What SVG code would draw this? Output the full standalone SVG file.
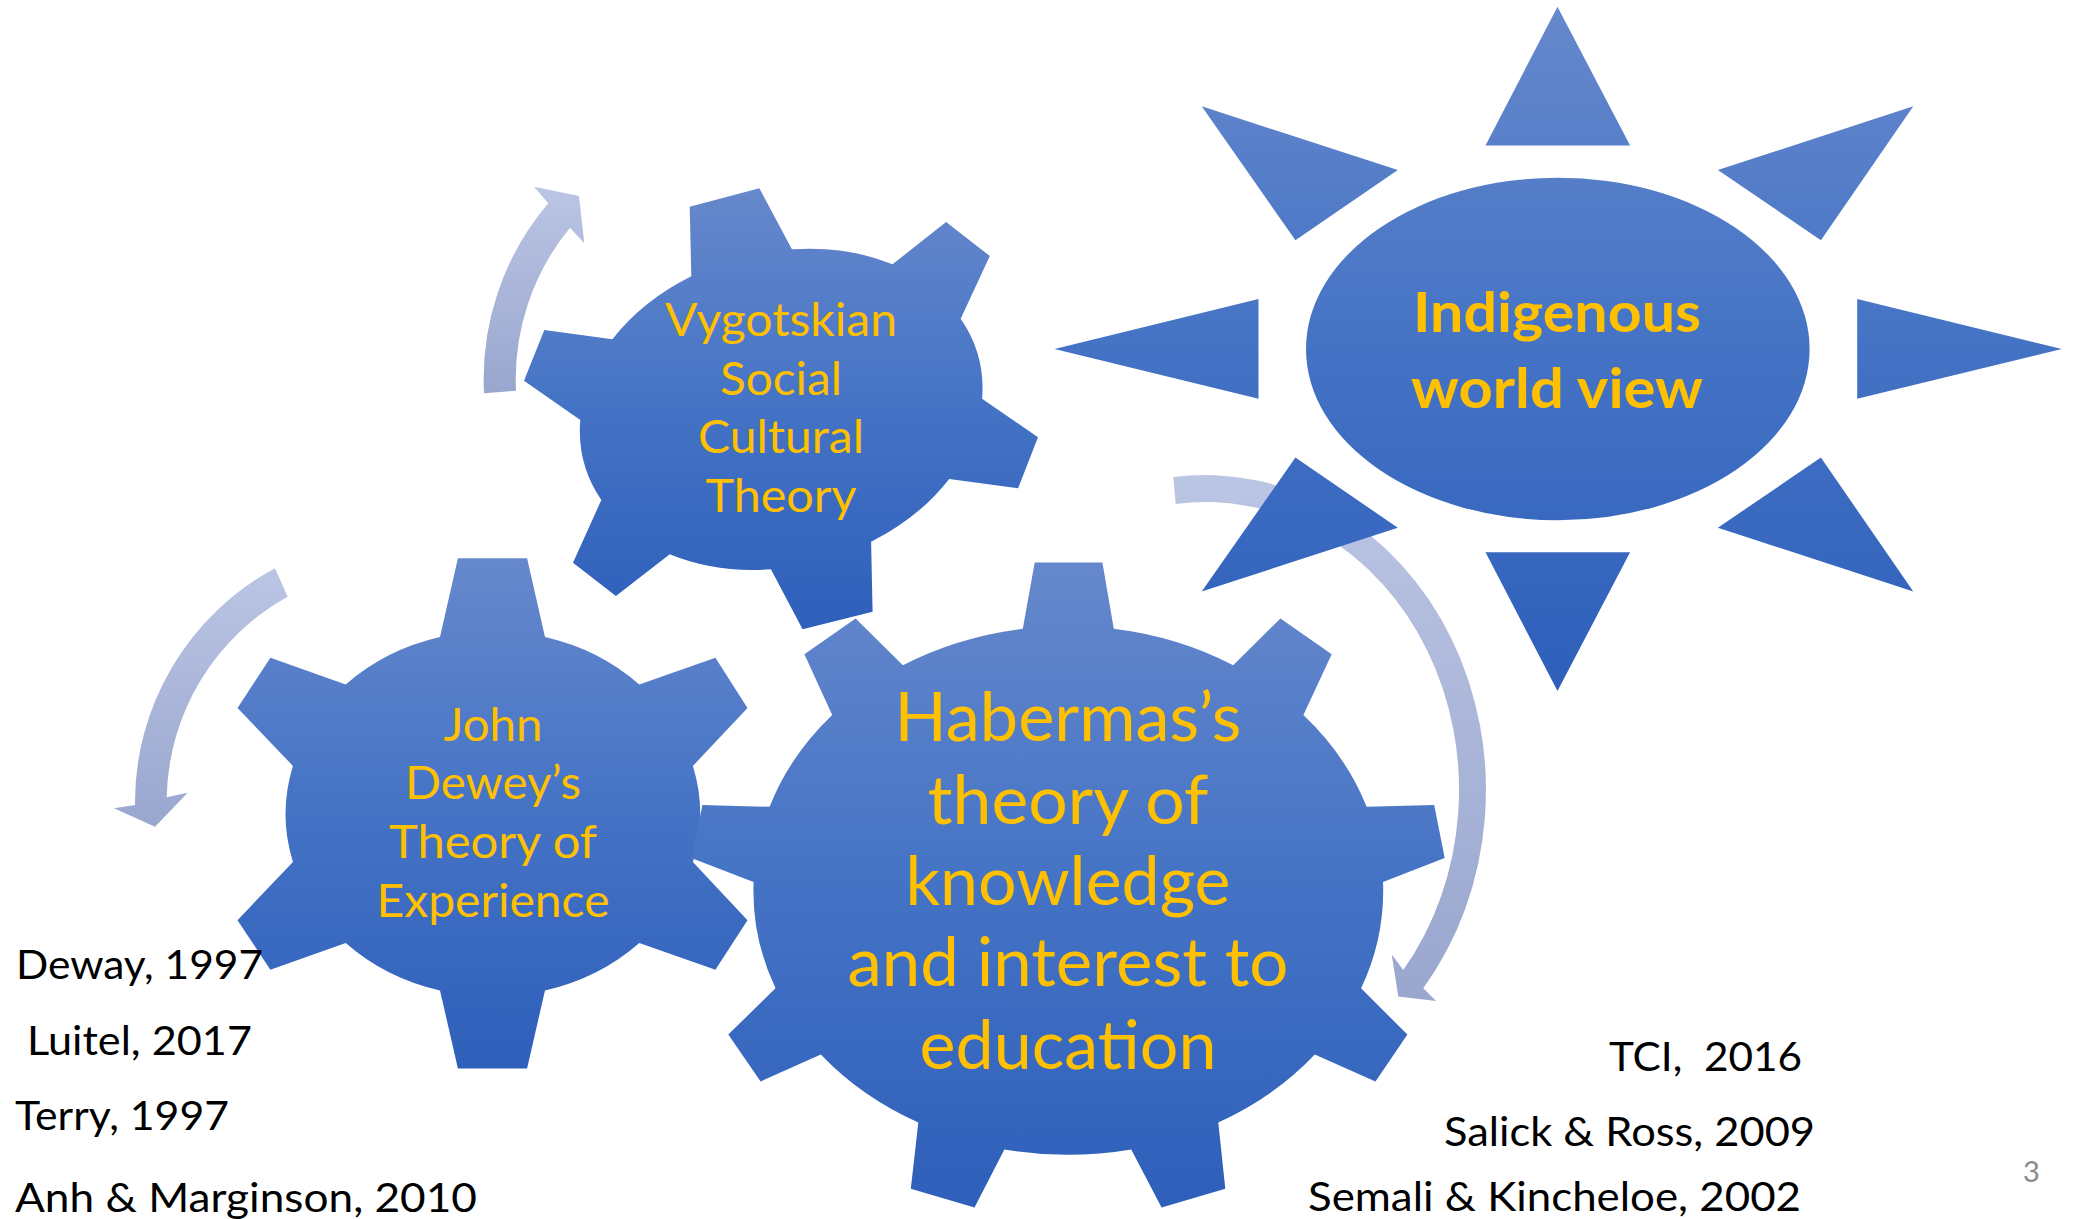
<svg xmlns="http://www.w3.org/2000/svg" width="2075" height="1219" viewBox="0 0 2075 1219">
  <style>
    .gear { fill: url(#blueGrad); }
    .arrow { fill: url(#arrowGrad); }
    .lbl { font-family: Lato, "Open Sans", "Liberation Sans", sans-serif; fill: #FFC000; text-anchor: middle; }
    .small { font-size: 47px; }
    .big { font-size: 68px; }
    .sunlbl { font-size: 56px; font-weight: bold; }
    .cite { font-family: Lato, "Open Sans", "Liberation Sans", sans-serif; font-size: 41px; fill: #000000; }
    .pg { font-family: Lato, "Open Sans", "Liberation Sans", sans-serif; font-size: 29px; fill: #898989; }
  </style>
  <defs>
    <linearGradient id="blueGrad" x1="0" y1="0" x2="0" y2="1">
      <stop offset="0" stop-color="#6688CC"/>
      <stop offset="0.5" stop-color="#4473C5"/>
      <stop offset="1" stop-color="#2E5FBA"/>
    </linearGradient>
    <linearGradient id="arrowGrad" x1="0" y1="0" x2="0" y2="1">
      <stop offset="0" stop-color="#BBC5E4"/>
      <stop offset="1" stop-color="#99A6CE"/>
    </linearGradient>
  </defs>
  <rect x="0" y="0" width="2075" height="1219" fill="#FFFFFF"/>

  <g id="connectors">
    <path id="arrow-upper-left" class="arrow" d="M484,393.3 A271 271 0 0 1 548.3,203.3 L534,186.7 L579,196 L584.3,243.3 L570,227.7 A238.6 238.6 0 0 0 516,390.7 Z"/>
    <path id="arrow-lower-left" class="arrow" d="M275,568.3 A265.7 265.7 0 0 0 135,805 L114,808.3 L155,826.7 L187.7,792.7 L166.7,797.3 A234.5 234.5 0 0 1 287.7,596.7 Z"/>
    <path id="arrow-right" class="arrow" d="M1173.3,477 A281 315 0 0 1 1423.3,988.3 L1436,1001 L1398.3,996.4 L1391.7,954.6 L1403.3,970 A254 288 0 0 0 1175.7,503.9 Z"/>
  </g>

  <g id="gear-vygotskian">
    <path class="gear" d="M691.3,276.3 L689.7,206.7 L759.4,188.3 L791.9,249.3 A205 157 -15.8 0 1 892.5,264.3 L946.1,222 L989.8,256 L960.7,318.7 A205 157 -15.8 0 1 982.1,398.7 L1038,437.3 L1018.1,488.3 L949.2,479 A205 157 -15.8 0 1 871.1,541.7 L872.6,611.7 L802.6,629.3 L770.9,569.3 A205 157 -15.8 0 1 669.8,554.3 L615.9,596 L573,562.7 L601.3,500 A205 157 -15.8 0 1 580.3,420 L524,380.7 L544.3,330 L612.4,339.3 A205 157 -15.8 0 1 691.3,276.3 Z"/>
    <text class="lbl small" x="781" y="336" textLength="232" lengthAdjust="spacingAndGlyphs">Vygotskian</text>
    <text class="lbl small" x="781" y="395" textLength="122" lengthAdjust="spacingAndGlyphs">Social</text>
    <text class="lbl small" x="781" y="453" textLength="166" lengthAdjust="spacingAndGlyphs">Cultural</text>
    <text class="lbl small" x="781" y="512" textLength="151" lengthAdjust="spacingAndGlyphs">Theory</text>
  </g>

  <g id="gear-dewey">
    <path class="gear" d="M440,637.1 L457.9,558.3 L527.1,558.3 L545,637.1 A207 183 0 0 1 639.3,684.6 L715.4,657.8 L747.5,708 L692.9,765.9 A207 183 0 0 1 692.9,862 L747.5,920.2 L715.4,969.8 L639.3,942.9 A207 183 0 0 1 545,990.4 L527.1,1068.6 L457.9,1068.6 L440,990.4 A207 183 0 0 1 345.7,942.9 L270.4,969.8 L237.5,920.2 L292.9,862 A207 183 0 0 1 292.9,765.9 L237.5,708 L270.4,657.8 L345.7,684.6 A207 183 0 0 1 440,637.1 Z"/>
    <text class="lbl small" x="493" y="741" textLength="99" lengthAdjust="spacingAndGlyphs">John</text>
    <text class="lbl small" x="493" y="799" textLength="176" lengthAdjust="spacingAndGlyphs">Dewey’s</text>
    <text class="lbl small" x="493" y="858" textLength="208" lengthAdjust="spacingAndGlyphs">Theory of</text>
    <text class="lbl small" x="493" y="917" textLength="233" lengthAdjust="spacingAndGlyphs">Experience</text>
  </g>

  <g id="gear-habermas">
    <path class="gear" d="M1022.8,628.8 L1034.7,562.5 L1102.4,562.5 L1113.8,628.8 A315 264 0 0 1 1233.2,665.2 L1280.5,618.4 L1331.7,654.3 L1303.4,715 A315 264 0 0 1 1366.6,806.8 L1434.2,805.1 L1444.7,857.9 L1383,882.1 A315 264 0 0 1 1361.1,988.2 L1407.4,1034.6 L1375.5,1081.4 L1314.8,1054.5 A315 264 0 0 1 1218.3,1122.5 L1225.3,1188.8 L1161.6,1207.4 L1131.2,1149.4 A315 264 0 0 1 1004.4,1149.4 L974.5,1207.4 L910.8,1188.8 L918.3,1122.5 A315 264 0 0 1 820.8,1054.5 L760.6,1081.4 L728.3,1034.6 L775.5,988.2 A315 264 0 0 1 753.6,882.1 L691.9,858.3 L702.4,805.1 L769.6,806.8 A315 264 0 0 1 832.2,715 L804.4,654.3 L855.6,618.4 L902.9,665.2 A315 264 0 0 1 1022.8,628.8 Z"/>
    <text class="lbl big" x="1068" y="741" textLength="347" lengthAdjust="spacingAndGlyphs">Habermas’s</text>
    <text class="lbl big" x="1068" y="824" textLength="281" lengthAdjust="spacingAndGlyphs">theory of</text>
    <text class="lbl big" x="1068" y="905" textLength="325" lengthAdjust="spacingAndGlyphs">knowledge</text>
    <text class="lbl big" x="1068" y="986" textLength="441" lengthAdjust="spacingAndGlyphs">and interest to</text>
    <text class="lbl big" x="1068" y="1069" textLength="297" lengthAdjust="spacingAndGlyphs">education</text>
  </g>

  <g id="sun-indigenous">
    <path class="gear" d="M1557.5,6.7 L1630.1,145.5 L1485.5,145.5 Z M1913.3,106.3 L1820.9,240.2 L1717.9,170.1 Z M2061.8,349.1 L1857.2,398.7 L1857.2,299.1 Z M1913.3,591.5 L1717.9,527.7 L1820.9,457.6 Z M1557.5,691.1 L1485.5,552.2 L1630.1,552.2 Z M1201.7,591.5 L1295.4,457.6 L1397.8,527.7 Z M1054.5,349.1 L1258.5,299.1 L1258.5,398.7 Z M1201.7,106.3 L1397.8,170.1 L1295.4,240.2 Z M1306,349 A251.8 171.2 0 1 1 1809.6,349 A251.8 171.2 0 1 1 1306,349 Z"/>
    <text class="lbl sunlbl" x="1557" y="332" textLength="288" lengthAdjust="spacingAndGlyphs">Indigenous</text>
    <text class="lbl sunlbl" x="1557" y="408" textLength="292" lengthAdjust="spacingAndGlyphs">world view</text>
  </g>

  <g id="citations-left">
    <text class="cite" x="16" y="979" textLength="247" lengthAdjust="spacingAndGlyphs">Deway, 1997</text>
    <text class="cite" x="27" y="1055" textLength="225" lengthAdjust="spacingAndGlyphs">Luitel, 2017</text>
    <text class="cite" x="15" y="1130" textLength="214" lengthAdjust="spacingAndGlyphs">Terry, 1997</text>
    <text class="cite" x="15" y="1212" textLength="462" lengthAdjust="spacingAndGlyphs">Anh &amp; Marginson, 2010</text>
  </g>

  <g id="citations-right">
    <text class="cite" x="1609" y="1071" textLength="193" lengthAdjust="spacingAndGlyphs" xml:space="preserve">TCI,  2016</text>
    <text class="cite" x="1444" y="1146" textLength="371" lengthAdjust="spacingAndGlyphs">Salick &amp; Ross, 2009</text>
    <text class="cite" x="1308" y="1211" textLength="493" lengthAdjust="spacingAndGlyphs">Semali &amp; Kincheloe, 2002</text>
  </g>

  <g id="page-number">
    <text class="pg" x="2023" y="1182">3</text>
  </g>
</svg>
